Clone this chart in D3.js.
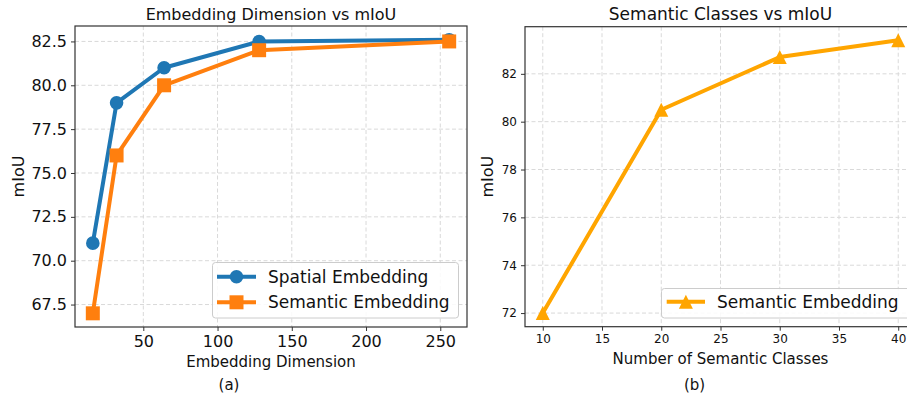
<!DOCTYPE html>
<html>
<head>
<meta charset="utf-8">
<script src="https://cdn.jsdelivr.net/npm/d3@7"></script>
<style>
  html, body { margin: 0; padding: 0; background: #fff; }
  svg { display: block; font-family: "DejaVu Sans", sans-serif; }
</style>
</head>
<body>
<svg id="chart" width="907" height="399"></svg>
<script>
// ---- Data ----
const embedDims = [16, 32, 64, 128, 256];
const spatialMiou = [71, 79, 81, 82.5, 82.6];
const semanticMiou = [67, 76, 80, 82, 82.5];
const leftYTicks = [67.5, 70.0, 72.5, 75.0, 77.5, 80.0, 82.5];
const leftXTicks = [50, 100, 150, 200, 250];

const numClasses = [10, 20, 30, 40];
const classMiou = [72, 80.5, 82.7, 83.4];
const rightYTicks = [72, 74, 76, 78, 80, 82];
const rightXTicks = [10, 15, 20, 25, 30, 35, 40];

const svg = d3.select("#chart");
const spineColor = "#333";
const gridColor = "#d9d9d9";

// matplotlib-like '^' marker (bbox-centred isosceles triangle)
const mplTriangle = {
  draw(context, size) {
    const r = Math.sqrt(size) / 2;
    context.moveTo(0, -r);
    context.lineTo(r, r);
    context.lineTo(-r, r);
    context.closePath();
  }
};

function drawPanel(cfg) {
  const g = svg.append("g");
  const x = d3.scaleLinear().domain(cfg.xDomain).range([cfg.left, cfg.right]);
  const y = d3.scaleLinear().domain(cfg.yDomain).range([cfg.bottom, cfg.top]);

  const clipId = "clip" + cfg.id;
  svg.append("clipPath").attr("id", clipId).append("rect")
    .attr("x", cfg.left).attr("y", cfg.top)
    .attr("width", cfg.right - cfg.left).attr("height", cfg.bottom - cfg.top);

  // grid
  g.append("g").selectAll("line").data(cfg.xTicks).join("line")
    .attr("x1", d => x(d)).attr("x2", d => x(d))
    .attr("y1", cfg.top).attr("y2", cfg.bottom)
    .attr("stroke", gridColor).attr("stroke-width", 1).attr("stroke-dasharray", "4,2.5");
  g.append("g").selectAll("line").data(cfg.yTicks).join("line")
    .attr("y1", d => y(d)).attr("y2", d => y(d))
    .attr("x1", cfg.left).attr("x2", cfg.right)
    .attr("stroke", gridColor).attr("stroke-width", 1).attr("stroke-dasharray", "4,2.5");

  // axes
  const xAxis = d3.axisBottom(x).tickValues(cfg.xTicks).tickSize(4).tickPadding(cfg.xPad).tickFormat(cfg.xFmt);
  const yAxis = d3.axisLeft(y).tickValues(cfg.yTicks).tickSize(4).tickPadding(cfg.yPad).tickFormat(cfg.yFmt);
  const xa = g.append("g").attr("transform", `translate(0,${cfg.bottom})`).call(xAxis);
  const ya = g.append("g").attr("transform", `translate(${cfg.left},0)`).call(yAxis);
  [xa, ya].forEach(a => {
    a.select(".domain").remove();
    a.selectAll(".tick line").attr("stroke", spineColor).attr("stroke-width", 1);
    a.selectAll(".tick text").attr("fill", "#111").style("font-size", cfg.tickFont + "px")
      .style("font-family", "DejaVu Sans, sans-serif");
  });

  // series
  const plot = g.append("g").attr("clip-path", `url(#${clipId})`);
  cfg.series.forEach(s => {
    const line = d3.line().x((d, i) => x(cfg.xs[i])).y(d => y(d));
    plot.append("path").datum(s.values).attr("d", line)
      .attr("fill", "none").attr("stroke", s.color).attr("stroke-width", 4)
      .attr("stroke-linejoin", "round");
    const sym = d3.symbol().type(s.symbol).size(s.size);
    plot.append("g").selectAll("path").data(s.values).join("path")
      .attr("transform", (d, i) => `translate(${x(cfg.xs[i])},${y(d)})`)
      .attr("d", sym).attr("fill", s.color);
  });

  // spines
  g.append("rect").attr("x", cfg.left).attr("y", cfg.top)
    .attr("width", cfg.right - cfg.left).attr("height", cfg.bottom - cfg.top)
    .attr("fill", "none").attr("stroke", spineColor).attr("stroke-width", 1.2);

  // title
  g.append("text").attr("x", (cfg.left + cfg.right) / 2).attr("y", 20)
    .attr("text-anchor", "middle").style("font-size", cfg.titleFont + "px").attr("fill", "#111")
    .text(cfg.title);
  // x label
  g.append("text").attr("x", (cfg.left + cfg.right) / 2).attr("y", cfg.xLabelY)
    .attr("text-anchor", "middle").style("font-size", "15px").attr("fill", "#111")
    .text(cfg.xLabel);
  // y label
  g.append("text").attr("transform", `translate(${cfg.yLabelX},${(cfg.top + cfg.bottom) / 2}) rotate(-90)`)
    .attr("text-anchor", "middle").style("font-size", "16px").attr("fill", "#111")
    .text("mIoU");
  // caption
  g.append("text").attr("x", cfg.capX).attr("y", 390)
    .attr("text-anchor", "middle").style("font-size", "15px").attr("fill", "#111")
    .text(cfg.caption);

  // legend
  const L = cfg.legend;
  const lg = g.append("g");
  lg.append("rect").attr("x", L.x).attr("y", L.y).attr("width", L.w).attr("height", L.h)
    .attr("rx", 3).attr("fill", "rgba(255,255,255,0.85)").attr("stroke", "#cccccc").attr("stroke-width", 1);
  cfg.series.forEach((s, i) => {
    const ry = L.rowY[i];
    lg.append("line").attr("x1", L.hx1).attr("x2", L.hx2).attr("y1", ry).attr("y2", ry)
      .attr("stroke", s.color).attr("stroke-width", 4);
    lg.append("path").attr("transform", `translate(${(L.hx1 + L.hx2) / 2},${ry})`)
      .attr("d", d3.symbol().type(s.symbol).size(s.size)).attr("fill", s.color);
    lg.append("text").attr("x", L.tx).attr("y", ry).attr("dy", "0.36em")
      .style("font-size", "17px").attr("fill", "#111").text(s.name);
  });
}

drawPanel({
  id: "a", left: 75, right: 467, top: 26, bottom: 327,
  xDomain: [4, 268], yDomain: [66.22, 83.38],
  xTicks: leftXTicks, yTicks: leftYTicks,
  xFmt: d3.format("d"), yFmt: d3.format(".1f"),
  xPad: 5, yPad: 4, tickFont: 16,
  xs: embedDims,
  series: [
    { name: "Spatial Embedding", values: spatialMiou, color: "#1f77b4", symbol: d3.symbolCircle, size: Math.PI * 6.8 * 6.8 },
    { name: "Semantic Embedding", values: semanticMiou, color: "#ff7f0e", symbol: d3.symbolSquare, size: 14 * 14 }
  ],
  title: "Embedding Dimension vs mIoU", titleFont: 16,
  xLabel: "Embedding Dimension", xLabelY: 367,
  yLabelX: 24, caption: "(a)", capX: 229,
  legend: { x: 212.5, y: 262.5, w: 246, h: 55.5, hx1: 217, hx2: 256, tx: 268, rowY: [276.7, 302.3] }
});

drawPanel({
  id: "b", left: 525, right: 916, top: 26.7, bottom: 326.7,
  xDomain: [8.5, 41.5], yDomain: [71.43, 83.97],
  xTicks: rightXTicks, yTicks: rightYTicks,
  xFmt: d3.format("d"), yFmt: d3.format("d"),
  xPad: 4, yPad: 4, tickFont: 12,
  xs: numClasses,
  series: [
    { name: "Semantic Embedding", values: classMiou, color: "#ffa500", symbol: mplTriangle, size: 14 * 14 }
  ],
  title: "Semantic Classes vs mIoU", titleFont: 17,
  xLabel: "Number of Semantic Classes", xLabelY: 363.5,
  yLabelX: 493, caption: "(b)", capX: 694.5,
  legend: { x: 661.5, y: 288.5, w: 250, h: 29.5, hx1: 666.7, hx2: 705, tx: 717, rowY: [301.7] }
});
</script>
</body>
</html>
